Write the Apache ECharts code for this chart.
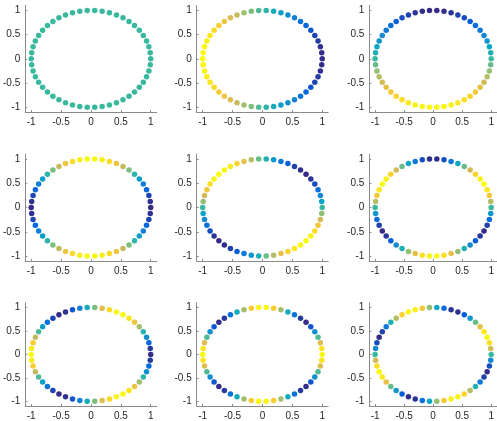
<!DOCTYPE html>
<html><head><meta charset="utf-8">
<script src="https://cdn.jsdelivr.net/npm/echarts@6/dist/echarts.min.js"></script>
<style>html,body{margin:0;padding:0;background:#fff}#c{width:497px;height:421px}</style>
</head><body><div id="c"></div>
<script>
// 50 points on the unit circle
const xCoords = [1.000,0.992,0.969,0.930,0.876,0.809,0.729,0.637,0.536,0.426,0.309,0.187,0.063,
-0.063,-0.187,-0.309,-0.426,-0.536,-0.637,-0.729,-0.809,-0.876,-0.930,-0.969,-0.992,
-1.000,
-0.992,-0.969,-0.930,-0.876,-0.809,-0.729,-0.637,-0.536,-0.426,-0.309,-0.187,-0.063,
0.063,0.187,0.309,0.426,0.536,0.637,0.729,0.809,0.876,0.930,0.969,0.992];
const yCoords = [0.000,0.125,0.249,0.368,0.482,0.588,0.685,0.771,0.844,0.905,0.951,0.982,0.998,
0.998,0.982,0.951,0.905,0.844,0.771,0.685,0.588,0.482,0.368,0.249,0.125,
0.000,
-0.125,-0.249,-0.368,-0.482,-0.588,-0.685,-0.771,-0.844,-0.905,-0.951,-0.982,-0.998,
-0.998,-0.982,-0.951,-0.905,-0.844,-0.771,-0.685,-0.588,-0.482,-0.368,-0.249,-0.125];
const tickValues = [-1, -0.5, 0, 0.5, 1];

// colour values per panel (row-major)
const colorP1 = [0,0,0,0,0,0,0,0,0,0,0,0,0,0,0,0,0,0,0,0,0,0,0,0,0,0,0,0,0,0,0,0,0,0,0,0,0,0,0,0,0,0,0,0,0,0,0,0,0,0];
const colorP2 = [-1.00,-0.99,-0.97,-0.93,-0.88,-0.81,-0.73,-0.64,-0.54,-0.43,-0.31,-0.19,-0.06,
0.06,0.19,0.31,0.43,0.54,0.64,0.73,0.81,0.88,0.93,0.97,0.99,
1.00,
0.99,0.97,0.93,0.88,0.81,0.73,0.64,0.54,0.43,0.31,0.19,0.06,
-0.06,-0.19,-0.31,-0.43,-0.54,-0.64,-0.73,-0.81,-0.88,-0.93,-0.97,-0.99];
const colorP3 = [0.00,-0.13,-0.25,-0.37,-0.48,-0.59,-0.68,-0.77,-0.84,-0.90,-0.95,-0.98,-1.00,
-1.00,-0.98,-0.95,-0.90,-0.84,-0.77,-0.68,-0.59,-0.48,-0.37,-0.25,-0.13,
0.00,
0.13,0.25,0.37,0.48,0.59,0.68,0.77,0.84,0.90,0.95,0.98,1.00,
1.00,0.98,0.95,0.90,0.84,0.77,0.68,0.59,0.48,0.37,0.25,0.13];
const colorP4 = [-1.00,-0.97,-0.88,-0.73,-0.54,-0.31,-0.06,0.19,0.43,0.64,0.81,0.93,0.99,0.99,0.93,0.81,0.64,0.43,0.19,-0.06,-0.31,-0.54,-0.73,-0.88,-0.97,
-1.00,-0.97,-0.88,-0.73,-0.54,-0.31,-0.06,0.19,0.43,0.64,0.81,0.93,0.99,0.99,0.93,0.81,0.64,0.43,0.19,-0.06,-0.31,-0.54,-0.73,-0.88,-0.97];
const colorP5 = [0.00,-0.25,-0.48,-0.68,-0.84,-0.95,-1.00,-0.98,-0.90,-0.77,-0.59,-0.37,-0.13,0.13,0.37,0.59,0.77,0.90,0.98,1.00,0.95,0.84,0.68,0.48,0.25,
0.00,-0.25,-0.48,-0.68,-0.84,-0.95,-1.00,-0.98,-0.90,-0.77,-0.59,-0.37,-0.13,0.13,0.37,0.59,0.77,0.90,0.98,1.00,0.95,0.84,0.68,0.48,0.25];
const colorP6 = [0.00,0.37,0.68,0.90,1.00,0.95,0.77,0.48,0.13,-0.25,
-0.59,-0.84,-0.98,-0.98,-0.84,-0.59,-0.25,0.13,0.48,0.77,
0.95,1.00,0.90,0.68,0.37,0.00,-0.37,-0.68,-0.90,-1.00,
-0.95,-0.77,-0.48,-0.13,0.25,0.59,0.84,0.98,0.98,0.84,
0.59,0.25,-0.13,-0.48,-0.77,-0.95,-1.00,-0.90,-0.68,-0.37];
const colorP7 = [-1.00,-0.93,-0.73,-0.43,-0.06,0.31,0.64,0.88,0.99,0.97,
0.81,0.54,0.19,-0.19,-0.54,-0.81,-0.97,-0.99,-0.88,-0.64,
-0.31,0.06,0.43,0.73,0.93,1.00,0.93,0.73,0.43,0.06,
-0.31,-0.64,-0.88,-0.99,-0.97,-0.81,-0.54,-0.19,0.19,0.54,
0.81,0.97,0.99,0.88,0.64,0.31,-0.06,-0.43,-0.73,-0.93];
const colorP8 = [1.00,0.88,0.54,0.06,-0.43,-0.81,-0.99,-0.93,-0.64,-0.19,0.31,0.73,0.97,0.97,0.73,0.31,-0.19,-0.64,-0.93,-0.99,-0.81,-0.43,0.06,0.54,0.88,
1.00,0.88,0.54,0.06,-0.43,-0.81,-0.99,-0.93,-0.64,-0.19,0.31,0.73,0.97,0.97,0.73,0.31,-0.19,-0.64,-0.93,-0.99,-0.81,-0.43,0.06,0.54,0.88];
const colorP9 = [0.00,0.48,0.84,1.00,0.90,0.59,0.13,-0.37,-0.77,-0.98,-0.95,-0.68,-0.25,0.25,0.68,0.95,0.98,0.77,0.37,-0.13,-0.59,-0.90,-1.00,-0.84,-0.48,
0.00,0.48,0.84,1.00,0.90,0.59,0.13,-0.37,-0.77,-0.98,-0.95,-0.68,-0.25,0.25,0.68,0.95,0.98,0.77,0.37,-0.13,-0.59,-0.90,-1.00,-0.84,-0.48];

const panels = [colorP1, colorP2, colorP3, colorP4, colorP5, colorP6, colorP7, colorP8, colorP9];
const parula = ['#352a87','#0363e1','#1485d4','#06a7c6','#38b99e','#92bf73','#d9ba56','#fcce2e','#f9fb0e'];

const lefts = [25.2, 196.7, 369.3];
const tops = [5.45, 154.15, 302.8];
const W = 131.5, H = 106.7;
const axisCol = '#8a8a8a', textCol = '#262626';

const grid = [], xAxis = [], yAxis = [], series = [];
panels.forEach((vals, i) => {
  const r = Math.floor(i / 3), c = i % 3;
  grid.push({left: lefts[c], top: tops[r], width: W, height: H});
  const common = {
    gridIndex: i, type: 'value', min: -1.1, max: 1.1,
    axisLine: {show: true, onZero: false, lineStyle: {color: axisCol, width: 1}},
    axisTick: {show: true, inside: true, length: 2, customValues: tickValues, lineStyle: {color: axisCol}},
    axisLabel: {customValues: tickValues, color: textCol, fontSize: 10, fontFamily: 'Liberation Sans', margin: 5},
    splitLine: {show: false}
  };
  xAxis.push(Object.assign({}, common));
  yAxis.push(Object.assign({}, common));
  series.push({
    type: 'scatter', xAxisIndex: i, yAxisIndex: i,
    symbol: 'circle', symbolSize: 5.5,
    itemStyle: {opacity: 1},
    data: xCoords.map((x, k) => [x, yCoords[k], vals[k]])
  });
});

const chart = echarts.init(document.getElementById('c'), null, {renderer: 'canvas'});
chart.setOption({
  animation: false,
  backgroundColor: '#ffffff',
  grid, xAxis, yAxis, series,
  visualMap: {
    type: 'continuous', show: false, min: -1, max: 1, dimension: 2,
    seriesIndex: [0,1,2,3,4,5,6,7,8],
    inRange: {color: parula, opacity: 1}
  }
});
</script>
</body></html>
